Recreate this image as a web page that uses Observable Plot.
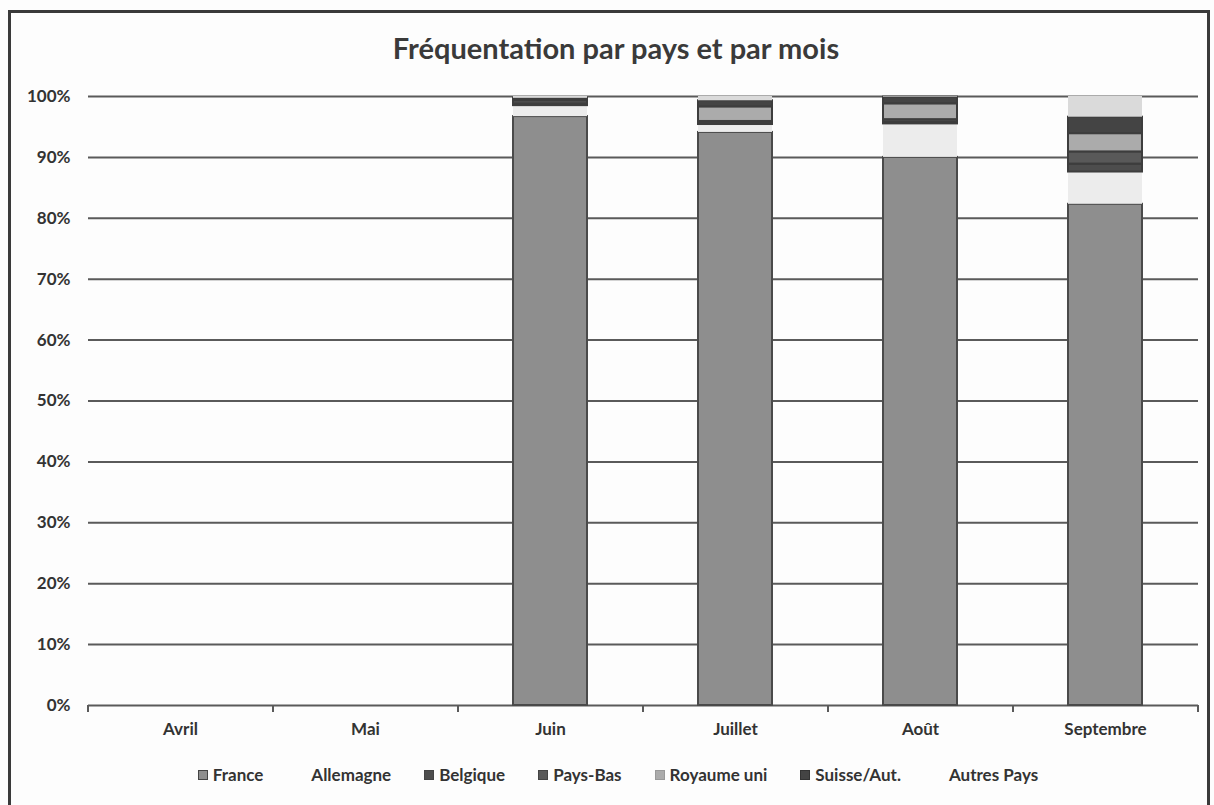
<!DOCTYPE html>
<html>
<head>
<meta charset="utf-8">
<script src="https://cdn.jsdelivr.net/npm/d3@7"></script>
<script src="https://cdn.jsdelivr.net/npm/@observablehq/plot@0.6"></script>
<style>
  html, body { margin: 0; padding: 0; background: #fdfdfd; width: 1214px; height: 805px; overflow: hidden; }
  body { position: relative; font-family: Lato, "Open Sans", sans-serif; color: #333; }
  #frame { position: absolute; left: 8px; top: 10px; width: 1202px; height: 800px; box-sizing: border-box; border: 3px solid #3a3a3a; }
  #title { position: absolute; left: 0; width: 1232px; top: 30px; line-height: 36px; text-align: center; font-size: 29px; font-weight: 700; color: #3a3a3a; }
  #chart { position: absolute; left: 0; top: 0; }
  #legend { position: absolute; left: 0; width: 1236px; top: 762px; line-height: 26px; display: flex; justify-content: center; gap: 33px; font-size: 17px; font-weight: 700; color: #333; }
  #legend .item { display: flex; align-items: center; gap: 5px; }
  #legend .sw { width: 10px; height: 10px; box-sizing: border-box; }
</style>
</head>
<body>
<div id="frame"></div>
<div id="title">Fréquentation par pays et par mois</div>
<div id="chart"></div>
<div id="legend"></div>
<script>
// ---- data (percent of visitors) ----
const months = ["Avril", "Mai", "Juin", "Juillet", "Août", "Septembre"];
const series = ["France", "Allemagne", "Belgique", "Pays-Bas", "Royaume uni", "Suisse/Aut.", "Autres Pays"];
const france     = [0, 0, 96.7, 94.1, 90.0, 82.3];
const allemagne  = [0, 0, 1.8, 1.3, 5.5, 5.3];
const belgique   = [0, 0, 0.3, 0.2, 0.3, 1.3];
const paysBas    = [0, 0, 0.5, 0.3, 0.4, 2.0];
const royaumeUni = [0, 0, 0.2, 2.4, 2.6, 3.0];
const suisse     = [0, 0, 0.2, 1.0, 1.1, 2.7];
const autres     = [0, 0, 0.3, 0.7, 0.1, 3.4];
const yTicks = [0, 10, 20, 30, 40, 50, 60, 70, 80, 90, 100];

// ---- styles ----
const fills   = ["#8e8e8e", "#ececec", "#4d4d4d", "#595959", "#ababab", "#444444", "#dadada"];
const strokes = ["#4a4a4a", "none", "#3d3d3d", "#3d3d3d", "#3d3d3d", "#3d3d3d", "none"];
const swatchBorder = ["#444", "none", "#444", "#444", "#999", "#333", "none"];

const valuesBySeries = [france, allemagne, belgique, paysBas, royaumeUni, suisse, autres];
const data = months.flatMap((m, i) => series.map((s, j) => ({month: m, country: s, value: valuesBySeries[j][i]})))
  .filter(d => d.value > 0);
const fillOf = Object.fromEntries(series.map((s, j) => [s, fills[j]]));
const strokeOf = Object.fromEntries(series.map((s, j) => [s, strokes[j]]));

const chart = Plot.plot({
  width: 1214,
  height: 750,
  marginLeft: 88,
  marginRight: 16,
  marginTop: 96,
  marginBottom: 45,
  style: {fontFamily: "Lato, 'Open Sans', sans-serif", fontSize: "17px", fontWeight: "700", color: "#333", background: "transparent"},
  x: {domain: months, paddingInner: 0.6, paddingOuter: 0.3, label: null, tickSize: 0, tickPadding: 17},
  y: {domain: [0, 100], ticks: yTicks, tickFormat: d => d + "%", tickSize: 0, tickPadding: 18, label: null},
  color: {type: "identity"},
  marks: [
    Plot.ruleY(yTicks, {stroke: "#5a5a5a", strokeWidth: 2}),
    Plot.ruleX(months, {x: d => d, y1: 0, y2: 0, dx: -92.5, insetBottom: -7, stroke: "#5a5a5a", strokeWidth: 2}),
    Plot.ruleX(months.slice(-1), {x: d => d, y1: 0, y2: 0, dx: 92.5, insetBottom: -7, stroke: "#5a5a5a", strokeWidth: 2}),
    Plot.barY(data, {
      x: "month", y: "value", z: "country", order: series,
      fill: d => fillOf[d.country], stroke: d => strokeOf[d.country], strokeWidth: 2
    })
  ]
});
document.getElementById("chart").appendChild(chart);

// ---- legend ----
const legend = document.getElementById("legend");
series.forEach((s, j) => {
  const item = document.createElement("div");
  item.className = "item";
  const sw = document.createElement("span");
  sw.className = "sw";
  if (swatchBorder[j] !== "none") {
    sw.style.background = fills[j];
    sw.style.border = "1.5px solid " + swatchBorder[j];
  } else {
    sw.style.background = "transparent";
  }
  const label = document.createElement("span");
  label.textContent = s;
  item.appendChild(sw);
  item.appendChild(label);
  legend.appendChild(item);
});
</script>
</body>
</html>
